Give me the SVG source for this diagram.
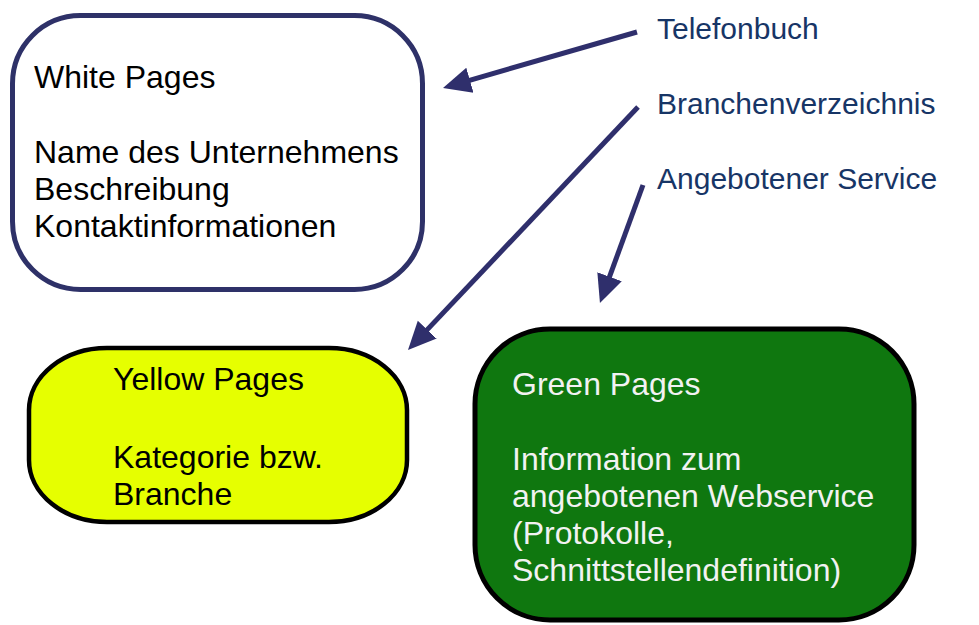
<svg xmlns="http://www.w3.org/2000/svg" width="979" height="625" viewBox="0 0 979 625">
  <style>
    text { font-family: "Liberation Sans", Arial, sans-serif; }
    .box-text { font-size: 32px; fill: #000000; }
    .green-text { font-size: 32px; fill: #f2f2f2; }
    .label { font-size: 30px; fill: #173566; }
    .arrow { stroke: #2f2f6c; stroke-width: 5; fill: none; marker-end: url(#head); }
  </style>
  <defs>
    <marker id="head" viewBox="0 0 28 28" refX="13" refY="14" markerWidth="28" markerHeight="28" markerUnits="userSpaceOnUse" orient="auto">
      <path d="M0,1 L28,14 L0,27 z" fill="#2f2f6c"/>
    </marker>
  </defs>
  <rect width="979" height="625" fill="#ffffff"/>

  <!-- White Pages -->
  <g id="white-pages">
    <rect x="12.5" y="15.5" width="410" height="274" rx="68" ry="68" fill="#ffffff" stroke="#2e3168" stroke-width="5"/>
    <text class="box-text" x="34" y="88">White Pages</text>
    <text class="box-text" x="34" y="163">Name des Unternehmens</text>
    <text class="box-text" x="34" y="200">Beschreibung</text>
    <text class="box-text" x="34" y="237">Kontaktinformationen</text>
  </g>

  <!-- Yellow Pages -->
  <g id="yellow-pages">
    <rect x="29" y="348" width="378" height="174" rx="78" ry="62" fill="#e6ff00" stroke="#000000" stroke-width="4.5"/>
    <text class="box-text" x="113" y="390">Yellow Pages</text>
    <text class="box-text" x="113" y="468">Kategorie bzw.</text>
    <text class="box-text" x="113" y="505">Branche</text>
  </g>

  <!-- Green Pages -->
  <g id="green-pages">
    <rect x="475" y="329" width="439" height="291" rx="75" ry="75" fill="#0f770f" stroke="#000000" stroke-width="5"/>
    <text class="green-text" x="512" y="395">Green Pages</text>
    <text class="green-text" x="512" y="470">Information zum</text>
    <text class="green-text" x="512" y="507">angebotenen Webservice</text>
    <text class="green-text" x="512" y="544">(Protokolle,</text>
    <text class="green-text" x="512" y="581">Schnittstellendefinition)</text>
  </g>

  <!-- Labels -->
  <g id="label-telefonbuch"><text class="label" x="657" y="39">Telefonbuch</text></g>
  <g id="label-branchenverzeichnis"><text class="label" x="657" y="114">Branchenverzeichnis</text></g>
  <g id="label-service"><text class="label" x="657" y="189">Angebotener Service</text></g>

  <!-- Connectors -->
  <g id="connectors">
    <line class="arrow" x1="637" y1="32" x2="457.4" y2="83.8"/>
    <line class="arrow" x1="638" y1="107" x2="418.3" y2="339.1"/>
    <line class="arrow" x1="643" y1="185" x2="605.1" y2="288.9"/>
  </g>
</svg>
